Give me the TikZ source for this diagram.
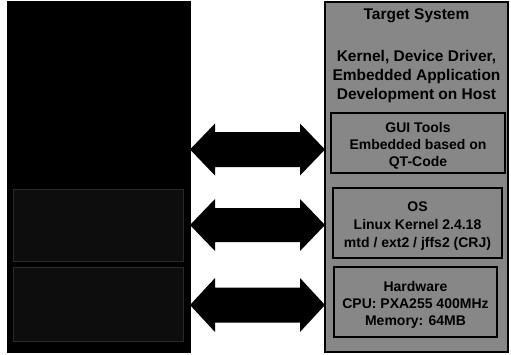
\documentclass[tikz,border=0pt]{standalone}
\usepackage{fontspec}
\setmainfont{Liberation Sans}
\definecolor{tgray}{gray}{0.53}
\definecolor{hostfill}{gray}{0.05}
\definecolor{hostedge}{gray}{0.16}
\newcommand\linkarrow[4]{%
  \fill[link] (#1) -- ([xshift=25pt,yshift=#4]#1) -- ([xshift=25pt,yshift=#3]#1)
    -- ([xshift=-25pt,yshift=#3]#2) -- ([xshift=-25pt,yshift=#4]#2) -- (#2)
    -- ([xshift=-25pt,yshift=-#4]#2) -- ([xshift=-25pt,yshift=-#3]#2)
    -- ([xshift=25pt,yshift=-#3]#1) -- ([xshift=25pt,yshift=-#4]#1) -- cycle;}
\begin{document}
\begin{tikzpicture}[x=1pt,y=-1pt,
  panel/.style={draw=black,line width=1.2pt,inner sep=0pt},
  hostpanel/.style={panel,fill=black},
  targetpanel/.style={panel,fill=tgray},
  layerbox/.style={draw=black,line width=1.2pt,fill=tgray,inner sep=0pt},
  hostbox/.style={draw=hostedge,line width=1pt,fill=hostfill,inner sep=0pt},
  headtext/.style={font=\bfseries\fontsize{15.5}{19}\selectfont,align=center,inner sep=0pt},
  bodytext/.style={font=\bfseries\fontsize{14}{17}\selectfont,align=center,inner sep=0pt},
  link/.style={fill=black}]
\useasboundingbox[fill=white] (0,0) rectangle (511,354);

% panels
\node[hostpanel,minimum width=182pt,minimum height=350pt] (host) at (99,177) {};
\node[targetpanel,minimum width=183pt,minimum height=350pt] (target) at (416.5,177) {};

% faint boxes inside the host panel
\node[hostbox,minimum width=170pt,minimum height=72pt] (hostos) at (98,225) {};
\node[hostbox,minimum width=170pt,minimum height=74pt] (hosthw) at (98,304) {};

% target panel texts
\node[headtext] (ttitle) at (416.5,16) {Target System};
\node[headtext] (tdev) at (416.5,76) {Kernel, Device Driver,\\Embedded Application\\Development on Host};

% layer boxes
\node[layerbox,minimum width=174pt,minimum height=60pt] (tools) at (418,143) {};
\node[bodytext] (toolstext) at (418,146) {GUI Tools\\Embedded based on\\QT-Code};
\node[layerbox,minimum width=169pt,minimum height=70pt] (os) at (417.5,223) {};
\node[bodytext,font=\bfseries\fontsize{14}{18}\selectfont] (ostext) at (417.5,226) {OS\\Linux Kernel 2.4.18\\mtd / ext2 / jffs2 (CRJ)};
\node[layerbox,minimum width=163pt,minimum height=70pt] (hw) at (415.5,302) {};
\node[bodytext] (hwtext) at (415.5,305) {Hardware\\CPU: PXA255 400MHz\\Memory: 64MB};

% arrow end points
\coordinate (l1) at (190,149.5);
\coordinate (r1) at (325,149.5);
\coordinate (l2) at (190,225);
\coordinate (r2) at (325,225);
\coordinate (l3) at (190,305);
\coordinate (r3) at (325,305);

\linkarrow{l1}{r1}{17.5pt}{26pt}
\linkarrow{l2}{r2}{17pt}{26pt}
\linkarrow{l3}{r3}{17.5pt}{27pt}
\end{tikzpicture}
\end{document}
